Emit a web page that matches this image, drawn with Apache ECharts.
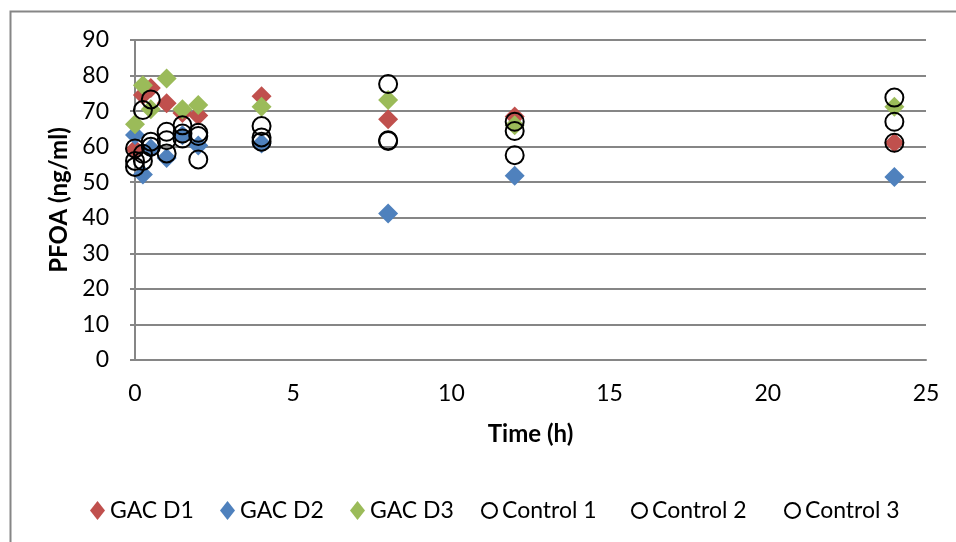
<!DOCTYPE html>
<html>
<head>
<meta charset="utf-8">
<script src="https://cdn.jsdelivr.net/npm/echarts@6/dist/echarts.min.js"></script>
<style>
html,body{margin:0;padding:0;background:#fff;}
#chart{width:956px;height:542px;}
</style>
</head>
<body>
<div id="chart"></div>
<script>
const times = [0, 0.25, 0.5, 1, 1.5, 2, 4, 8, 12, 24];
const gacD1 = [59.3, 74.5, 76.5, 72.2, 69.5, 68.8, 74.2, 67.7, 68.5, 61.1];
const gacD2 = [63.3, 52.2, 59.5, 56.8, 63.2, 60.3, 60.9, 41.2, 51.8, 51.5];
const gacD3 = [66.3, 77.3, 70.5, 79.2, 70.5, 71.7, 71.2, 73.1, 66.0, 71.2];
const control1 = [59.5, 70.3, 73.3, 64.2, 66.0, 63.9, 65.8, 77.6, 67.0, 73.8];
const control2 = [56.0, 56.0, 61.4, 61.8, 63.7, 63.0, 62.6, 61.8, 64.4, 67.0];
const control3 = [54.3, 58.0, 60.0, 58.1, 62.3, 56.4, 61.4, 61.6, 57.6, 61.1];
const seriesNames = ['GAC D1', 'GAC D2', 'GAC D3', 'Control 1', 'Control 2', 'Control 3'];
const yTicks = [0, 10, 20, 30, 40, 50, 60, 70, 80, 90];
const xTicks = [0, 5, 10, 15, 20, 25];

const FONT = 'Lato';
const pairs = arr => times.map((t, i) => [t, arr[i]]);

function diamond(name, arr, color) {
  return {
    name: name, type: 'scatter', data: pairs(arr),
    symbol: 'diamond', symbolSize: [20, 20],
    itemStyle: { color: color, opacity: 1 },
    emphasis: { disabled: true }
  };
}
function circle(name, arr) {
  return {
    name: name, type: 'scatter', data: pairs(arr),
    symbol: 'circle', symbolSize: 18,
    itemStyle: { color: 'rgba(255,255,255,0)', borderColor: '#000', borderWidth: 2, opacity: 1 },
    emphasis: { disabled: true }
  };
}

const legendLefts = [85, 215, 345, 476, 626, 779];
const legends = seriesNames.map((n, i) => ({
  data: [n],
  left: legendLefts[i], top: 494,
  itemGap: 0, itemWidth: 15, itemHeight: 19,
  textStyle: { fontFamily: FONT, fontSize: 23, color: '#000' },
  selectedMode: false
}));

const chart = echarts.init(document.getElementById('chart'), null, { renderer: 'canvas' });
chart.setOption({
  animation: false,
  backgroundColor: '#fff',
  textStyle: { fontFamily: FONT },
  graphic: [{
    type: 'rect', left: 8, top: 9, silent: true,
    shape: { x: 0, y: 0, width: 980, height: 560 },
    style: { fill: 'none', stroke: '#868686', lineWidth: 2 }
  }],
  grid: { left: 135, right: 30, top: 40, bottom: 182, containLabel: false },
  xAxis: {
    type: 'value', min: xTicks[0], max: xTicks[xTicks.length - 1], interval: 5,
    name: 'Time (h)', nameLocation: 'middle', nameGap: 62,
    nameTextStyle: { fontFamily: FONT, fontSize: 24, fontWeight: 'bold', color: '#000' },
    axisLine: { show: true, onZero: false, lineStyle: { color: '#868686', width: 2 } },
    axisTick: { show: false },
    axisLabel: { fontFamily: FONT, fontSize: 23, color: '#000', margin: 22 },
    splitLine: { show: false }
  },
  yAxis: {
    type: 'value', min: yTicks[0], max: yTicks[yTicks.length - 1], interval: 10,
    name: 'PFOA (ng/ml)', nameLocation: 'middle', nameGap: 58, nameRotate: 90,
    nameTextStyle: { fontFamily: FONT, fontSize: 24, fontWeight: 'bold', color: '#000' },
    axisLine: { show: true, onZero: false, lineStyle: { color: '#868686', width: 2 } },
    axisTick: { show: true, inside: false, length: 5, lineStyle: { color: '#868686', width: 2 } },
    axisLabel: { fontFamily: FONT, fontSize: 23, color: '#000', margin: 26 },
    splitLine: { show: true, lineStyle: { color: '#868686', width: 2 } }
  },
  legend: legends,
  series: [
    diamond(seriesNames[0], gacD1, '#C0504D'),
    diamond(seriesNames[1], gacD2, '#4F81BD'),
    diamond(seriesNames[2], gacD3, '#9BBB59'),
    circle(seriesNames[3], control1),
    circle(seriesNames[4], control2),
    circle(seriesNames[5], control3)
  ]
});
</script>
</body>
</html>
